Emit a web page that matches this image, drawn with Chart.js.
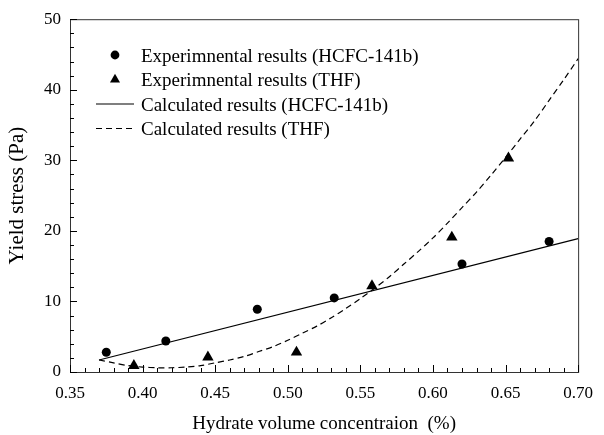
<!DOCTYPE html>
<html lang="en">
<head>
<meta charset="UTF-8">
<title>Yield stress vs hydrate volume concentration</title>
<script src="https://cdn.jsdelivr.net/npm/chart.js"></script>
<style>
  html, body { margin: 0; padding: 0; background: #fff; }
  #wrap { width: 604px; height: 435px; }
</style>
</head>
<body>
<div id="wrap"><canvas id="yieldChart"></canvas></div>
<script>
const hcfcX = [0.375, 0.416, 0.479, 0.532, 0.620, 0.680];
const hcfcY = [2.8, 4.4, 8.9, 10.5, 15.3, 18.5];
const thfX = [0.394, 0.445, 0.506, 0.558, 0.613, 0.652];
const thfY = [0.9, 2.1, 2.8, 12.2, 19.1, 30.3];

// Calculated curves, sampled from the figure
const calcHcfcX = [0.37, 0.70];
const calcHcfcY = [1.7, 18.9];
const calcThfX = [0.37, 0.38, 0.39, 0.40, 0.41, 0.42, 0.43, 0.44, 0.45, 0.46, 0.47, 0.48,
                  0.49, 0.50, 0.51, 0.52, 0.53, 0.54, 0.55, 0.56, 0.57, 0.58, 0.59, 0.60,
                  0.61, 0.62, 0.63, 0.64, 0.65, 0.66, 0.67, 0.68, 0.69, 0.70];
const calcThfY = [1.7, 1.3, 0.9, 0.7, 0.6, 0.6, 0.7, 0.9, 1.3, 1.7, 2.2, 2.9,
                  3.6, 4.5, 5.5, 6.5, 7.7, 9.0, 10.4, 11.9, 13.5, 15.3, 17.1, 19.0,
                  21.1, 23.3, 25.5, 27.9, 30.4, 33.0, 35.6, 38.5, 41.4, 44.4];

const xTicks = [0.35, 0.40, 0.45, 0.50, 0.55, 0.60, 0.65, 0.70];
const yTicks = [0, 10, 20, 30, 40, 50];

const toPts = (xs, ys) => xs.map((x, i) => ({ x: x, y: ys[i] }));
const serif = 'Liberation Serif, Times New Roman, serif';

// legend drawn inside the plot, top-left
const insideLegend = {
    id: 'insideLegend',
    afterDraw(chart) {
        const ctx = chart.ctx;
        ctx.save();
        ctx.font = '19px ' + serif;
        ctx.textBaseline = 'middle';
        chart.data.datasets.forEach((ds, i) => {
            const y = 55 + i * 24.5;
            ctx.strokeStyle = '#000';
            ctx.fillStyle = '#000';
            if (ds.showLine) {
                ctx.lineWidth = 1.2;
                ctx.setLineDash(ds.borderDash || []);
                ctx.beginPath();
                ctx.moveTo(96, y);
                ctx.lineTo(134, y);
                ctx.stroke();
                ctx.setLineDash([]);
            } else {
                Chart.helpers.drawPoint(ctx, {
                    pointStyle: ds.pointStyle,
                    radius: ds.pointStyle === 'triangle' ? 5.8 : 4.4,
                    borderWidth: 0
                }, 115, y);
            }
            ctx.fillStyle = '#000';
            ctx.fillText(ds.label, 141, y + 2);
        });
        ctx.restore();
    }
};

// frame with inward major / minor ticks
const frameTicks = {
    id: 'frameTicks',
    afterDraw(chart) {
        const { ctx, chartArea: a, scales } = chart;
        ctx.save();
        ctx.strokeStyle = '#333';
        ctx.lineWidth = 1;
        ctx.strokeRect(a.left + 0.5, a.top + 0.5, a.right - a.left, a.bottom - a.top);
        ctx.strokeStyle = '#000';
        ctx.beginPath();
        for (let i = 35; i <= 70; i++) {
            const px = Math.round(scales.x.getPixelForValue(i / 100)) + 0.5;
            const len = i % 5 === 0 ? 7 : 4;
            ctx.moveTo(px, a.bottom);
            ctx.lineTo(px, a.bottom - len);
        }
        for (let v = 0; v <= 50; v += 2) {
            const py = Math.round(scales.y.getPixelForValue(v)) + 0.5;
            const len = v % 10 === 0 ? 7 : 4;
            ctx.moveTo(a.left, py);
            ctx.lineTo(a.left + len, py);
        }
        ctx.stroke();
        ctx.restore();
    }
};

new Chart(document.getElementById('yieldChart'), {
    type: 'scatter',
    data: {
        datasets: [{
            label: 'Experimnental results (HCFC-141b)',
            data: toPts(hcfcX, hcfcY),
            pointStyle: 'circle',
            pointRadius: 4.5,
            backgroundColor: '#000',
            borderWidth: 0
        }, {
            label: 'Experimnental results (THF)',
            data: toPts(thfX, thfY),
            pointStyle: 'triangle',
            pointRadius: 6.6,
            backgroundColor: '#000',
            borderWidth: 0
        }, {
            label: 'Calculated results (HCFC-141b)',
            data: toPts(calcHcfcX, calcHcfcY),
            showLine: true,
            pointRadius: 0,
            borderColor: '#000',
            borderWidth: 1.2
        }, {
            label: 'Calculated results (THF)',
            data: toPts(calcThfX, calcThfY),
            showLine: true,
            pointRadius: 0,
            borderColor: '#000',
            borderWidth: 1.2,
            borderDash: [6, 4],
            tension: 0.3
        }]
    },
    options: {
        responsive: true,
        maintainAspectRatio: false,
        animation: false,
        layout: { padding: { top: 17, right: 17, left: 0, bottom: 0 } },
        plugins: {
            legend: { display: false },
            tooltip: { enabled: false }
        },
        scales: {
            x: {
                type: 'linear',
                min: 0.35,
                max: 0.70,
                afterBuildTicks: s => { s.ticks = xTicks.map(v => ({ value: v })); },
                afterFit: s => { s.height = 63; },
                ticks: {
                    callback: v => v.toFixed(2),
                    color: '#000',
                    font: { family: serif, size: 17 },
                    padding: 11,
                    maxRotation: 0
                },
                grid: { drawOnChartArea: false, drawTicks: false },
                border: { display: false },
                title: {
                    display: true,
                    text: 'Hydrate volume concentraion  (%)',
                    color: '#000',
                    font: { family: serif, size: 19 },
                    padding: { top: 2, bottom: 0 }
                }
            },
            y: {
                min: 0,
                max: 50,
                afterBuildTicks: s => { s.ticks = yTicks.map(v => ({ value: v })); },
                afterFit: s => { s.width = 70; },
                ticks: {
                    color: '#000',
                    font: { family: serif, size: 17 },
                    padding: 9
                },
                grid: { drawOnChartArea: false, drawTicks: false },
                border: { display: false },
                title: {
                    display: true,
                    text: 'Yield stress (Pa)',
                    color: '#000',
                    font: { family: serif, size: 21 },
                    padding: { top: 5, bottom: 0 }
                }
            }
        }
    },
    plugins: [frameTicks, insideLegend]
});
</script>
</body>
</html>
